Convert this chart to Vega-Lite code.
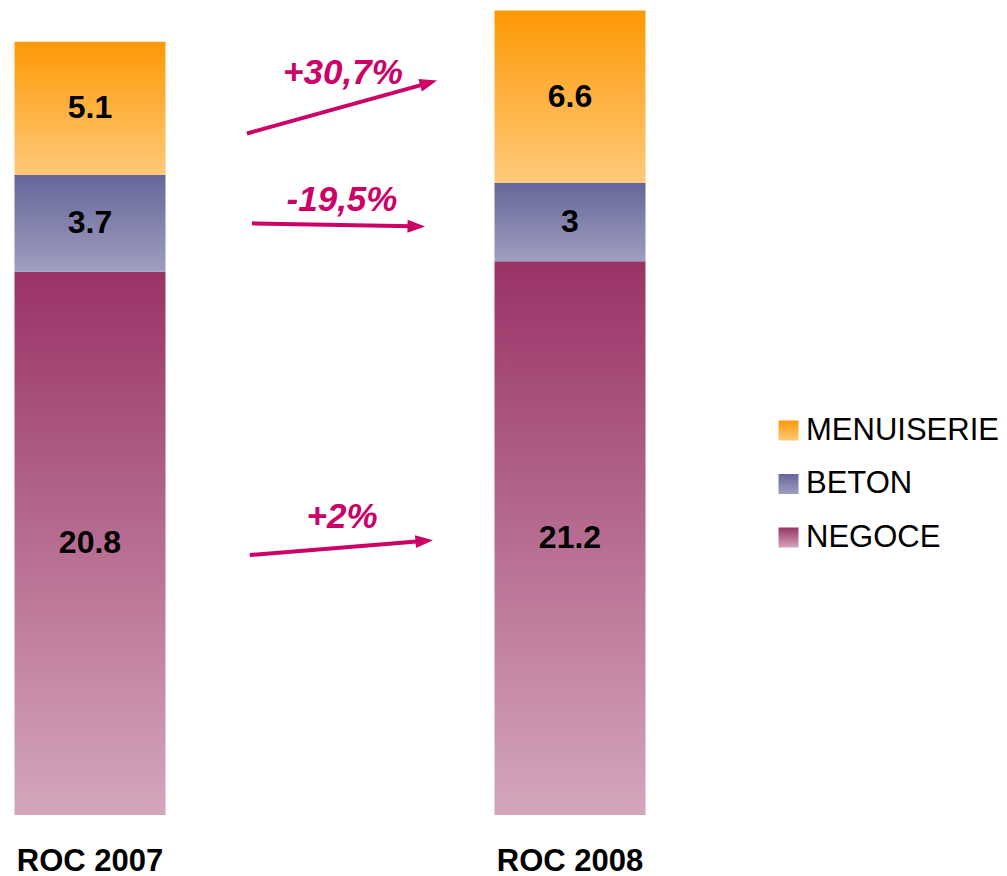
{
  "$schema": "https://vega.github.io/schema/vega-lite/v6.json",
  "width": 660,
  "height": 815,
  "padding": 0,
  "background": "white",
  "config": {"view": {"stroke": null}, "font": "Liberation Sans"},
  "datasets": {
    "roc": [
      {"roc": "ROC 2007", "segment": "NEGOCE", "rank": 1, "v": 20.8},
      {"roc": "ROC 2007", "segment": "BETON", "rank": 2, "v": 3.7},
      {"roc": "ROC 2007", "segment": "MENUISERIE", "rank": 3, "v": 5.1},
      {"roc": "ROC 2008", "segment": "NEGOCE", "rank": 1, "v": 21.2},
      {"roc": "ROC 2008", "segment": "BETON", "rank": 2, "v": 3},
      {"roc": "ROC 2008", "segment": "MENUISERIE", "rank": 3, "v": 6.6}
    ],
    "arrows": [
      {"label": "+30,7%", "x0": 0.327, "y0": 26.09, "x1": 0.697, "y1": 27.98, "lx": 0.527, "ly": 28.39},
      {"label": "-19,5%", "x0": 0.3375, "y0": 22.65, "x1": 0.671, "y1": 22.54, "lx": 0.525, "ly": 23.53},
      {"label": "+2%", "x0": 0.333, "y0": 9.95, "x1": 0.6875, "y1": 10.48, "lx": 0.525, "ly": 11.4}
    ]
  },
  "resolve": {"scale": {"x": "independent"}},
  "layer": [
    {
      "data": {"name": "roc"},
      "encoding": {
        "x": {
          "field": "roc", "type": "nominal", "title": null,
          "scale": {"paddingInner": 0.6854, "paddingOuter": 0.0302},
          "axis": {"labelAngle": 0, "domain": false, "ticks": false, "labelPadding": 31,
                   "labelFontSize": 31, "labelFontWeight": "bold", "labelColor": "black"}
        },
        "y": {"field": "v", "type": "quantitative", "stack": "zero",
              "scale": {"domain": [0, 31.2], "nice": false, "zero": true}, "axis": null},
        "order": {"field": "rank", "type": "quantitative"}
      },
      "layer": [
        {
          "mark": {"type": "bar"},
          "encoding": {
            "fill": {
              "field": "segment", "type": "nominal", "title": null,
              "scale": {
                "domain": ["MENUISERIE", "BETON", "NEGOCE"],
                "range": [
                  {"expr": "{gradient: 'linear', x1: 0, y1: 0, x2: 0, y2: 1, stops: [{offset: 0, color: '#FE9905'}, {offset: 1, color: '#FFC97A'}]}"},
                  {"expr": "{gradient: 'linear', x1: 0, y1: 0, x2: 0, y2: 1, stops: [{offset: 0, color: '#66669A'}, {offset: 1, color: '#9E9EC0'}]}"},
                  {"expr": "{gradient: 'linear', x1: 0, y1: 0, x2: 0, y2: 1, stops: [{offset: 0, color: '#993366'}, {offset: 1, color: '#D4A6BC'}]}"}
                ]
              },
              "legend": {
                "orient": "none", "legendX": 773, "legendY": 415,
                "symbolType": "square", "symbolSize": 400, "symbolStrokeWidth": 0,
                "labelFontSize": 31, "labelColor": "black", "labelOffset": 2,
                "rowPadding": 21.5, "labelLimit": 400
              }
            }
          }
        },
        {
          "mark": {"type": "text", "fontSize": 32, "fontWeight": "bold", "color": "black", "baseline": "middle"},
          "encoding": {
            "y": {"field": "v", "type": "quantitative", "stack": "zero", "bandPosition": 0.5,
                  "scale": {"domain": [0, 31.2], "nice": false}, "axis": null},
            "detail": {"field": "segment", "type": "nominal"},
            "text": {"field": "v", "type": "nominal"}
          }
        }
      ]
    },
    {
      "data": {"name": "arrows"},
      "mark": {"type": "rule", "color": "#CC0066", "strokeWidth": 4},
      "encoding": {
        "x": {"field": "x0", "type": "quantitative", "scale": {"domain": [-0.1875, 1.1875], "nice": false, "zero": false}, "axis": null},
        "x2": {"field": "x1"},
        "y": {"field": "y0", "type": "quantitative", "scale": {"domain": [0, 31.2], "nice": false}, "axis": null},
        "y2": {"field": "y1"}
      }
    },
    {
      "data": {"name": "arrows"},
      "transform": [{"filter": "datum.label === '+30,7%'"}],
      "mark": {"type": "point", "filled": true, "opacity": 1, "color": "#CC0066", "size": 676, "angle": -15.6,
               "shape": "M1,0 L-0.35,-0.5 L-0.35,0.5 Z"},
      "encoding": {
        "x": {"field": "x1", "type": "quantitative", "scale": {"domain": [-0.1875, 1.1875], "nice": false, "zero": false}, "axis": null},
        "y": {"field": "y1", "type": "quantitative", "scale": {"domain": [0, 31.2], "nice": false}, "axis": null}
      }
    },
    {
      "data": {"name": "arrows"},
      "transform": [{"filter": "datum.label === '-19,5%'"}],
      "mark": {"type": "point", "filled": true, "opacity": 1, "color": "#CC0066", "size": 676, "angle": 1,
               "shape": "M1,0 L-0.35,-0.5 L-0.35,0.5 Z"},
      "encoding": {
        "x": {"field": "x1", "type": "quantitative", "scale": {"domain": [-0.1875, 1.1875], "nice": false, "zero": false}, "axis": null},
        "y": {"field": "y1", "type": "quantitative", "scale": {"domain": [0, 31.2], "nice": false}, "axis": null}
      }
    },
    {
      "data": {"name": "arrows"},
      "transform": [{"filter": "datum.label === '+2%'"}],
      "mark": {"type": "point", "filled": true, "opacity": 1, "color": "#CC0066", "size": 676, "angle": -4.7,
               "shape": "M1,0 L-0.35,-0.5 L-0.35,0.5 Z"},
      "encoding": {
        "x": {"field": "x1", "type": "quantitative", "scale": {"domain": [-0.1875, 1.1875], "nice": false, "zero": false}, "axis": null},
        "y": {"field": "y1", "type": "quantitative", "scale": {"domain": [0, 31.2], "nice": false}, "axis": null}
      }
    },
    {
      "data": {"name": "arrows"},
      "mark": {"type": "text", "fontSize": 35, "fontWeight": "bold", "fontStyle": "italic", "color": "#CC0066", "baseline": "middle", "align": "center"},
      "encoding": {
        "x": {"field": "lx", "type": "quantitative", "scale": {"domain": [-0.1875, 1.1875], "nice": false, "zero": false}, "axis": null},
        "y": {"field": "ly", "type": "quantitative", "scale": {"domain": [0, 31.2], "nice": false}, "axis": null},
        "text": {"field": "label", "type": "nominal"}
      }
    }
  ]
}
